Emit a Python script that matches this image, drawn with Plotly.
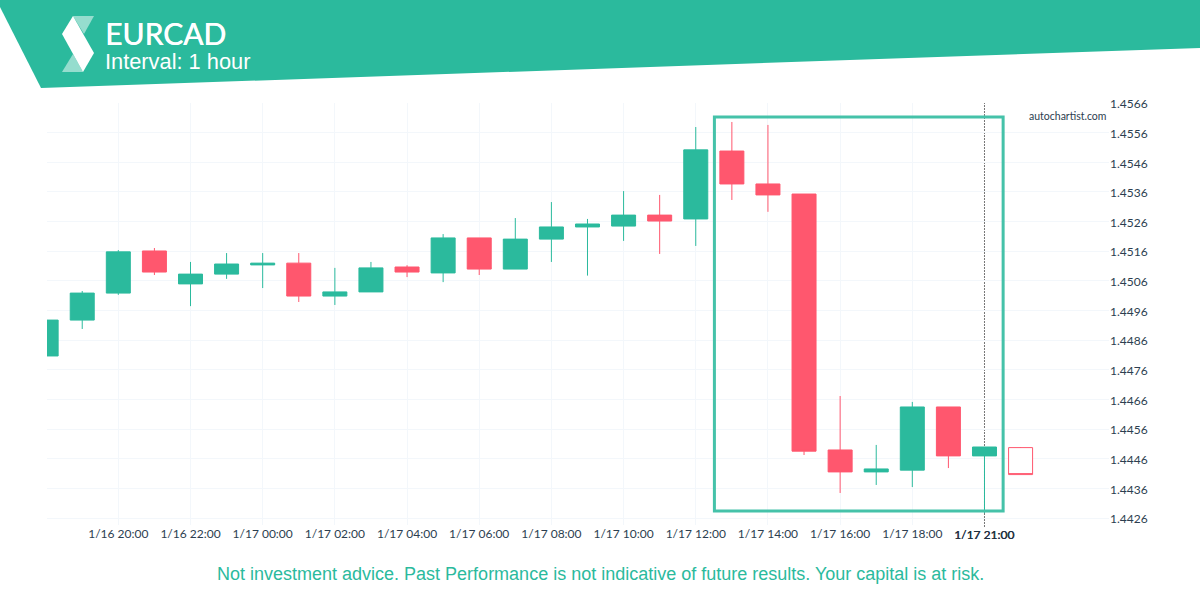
import plotly.graph_objects as go

GREEN = "#2BBA9D"
RED = "#FF576E"
TEXT = "#2C3E50"

# hourly candles, 1/16 18:00 to 1/17 20:00
times = ["2018-01-16 %02d:00" % h for h in (18, 19, 20, 21, 22, 23)] + \
        ["2018-01-17 %02d:00" % h for h in range(0, 21)]
opens = [1.44807, 1.44928, 1.45019, 1.45161, 1.45050, 1.45083, 1.45114, 1.45120, 1.45009, 1.45023,
         1.45107, 1.45087, 1.45205, 1.45100, 1.45201, 1.45242, 1.45245, 1.45282, 1.45269, 1.45498,
         1.45387, 1.45353, 1.44490, 1.44416, 1.44422, 1.44635, 1.44470]
highs = [1.44807, 1.45026, 1.45164, 1.45171, 1.45124, 1.45154, 1.45154, 1.45154, 1.45104, 1.45124,
         1.45113, 1.45218, 1.45205, 1.45272, 1.45326, 1.45269, 1.45363, 1.45350, 1.45579, 1.45596,
         1.45586, 1.45353, 1.44672, 1.44507, 1.44652, 1.44635, 1.44500]
lows = [1.44807, 1.44898, 1.45013, 1.45080, 1.44975, 1.45067, 1.45036, 1.44989, 1.44979, 1.45023,
        1.45073, 1.45056, 1.45080, 1.45100, 1.45124, 1.45078, 1.45195, 1.45151, 1.45178, 1.45333,
        1.45293, 1.44473, 1.44345, 1.44372, 1.44365, 1.44429, 1.44277]
closes = [1.44928, 1.45019, 1.45158, 1.45090, 1.45083, 1.45117, 1.45120, 1.45009, 1.45023, 1.45104,
          1.45090, 1.45205, 1.45100, 1.45201, 1.45242, 1.45252, 1.45282, 1.45262, 1.45502, 1.45387,
          1.45350, 1.44486, 1.44416, 1.44426, 1.44635, 1.44470, 1.44500]

# the unfinished candle after the last one
next_time = ["2018-01-17 21:00"]
next_open = [1.44498]
next_high = [1.44500]
next_low = [1.44407]
next_close = [1.44407]

tick_times = ["2018-01-16 20:00", "2018-01-16 22:00", "2018-01-17 00:00", "2018-01-17 02:00",
              "2018-01-17 04:00", "2018-01-17 06:00", "2018-01-17 08:00", "2018-01-17 10:00",
              "2018-01-17 12:00", "2018-01-17 14:00", "2018-01-17 16:00", "2018-01-17 18:00"]
tick_labels = ["1/16 20:00", "1/16 22:00", "1/17 00:00", "1/17 02:00", "1/17 04:00", "1/17 06:00",
               "1/17 08:00", "1/17 10:00", "1/17 12:00", "1/17 14:00", "1/17 16:00", "1/17 18:00"]
price_ticks = [1.4426, 1.4436, 1.4446, 1.4456, 1.4466, 1.4476, 1.4486, 1.4496, 1.4506, 1.4516,
               1.4526, 1.4536, 1.4546, 1.4556, 1.4566]


def px_x(x):
    return x / 1200


def px_y(y):
    return 1 - y / 600


def poly(points):
    parts = ["%s%.5f,%.5f" % ("M" if i == 0 else "L", px_x(x), px_y(y)) for i, (x, y) in enumerate(points)]
    return " ".join(parts) + " Z"


fig = go.Figure()

fig.add_trace(go.Candlestick(
    x=times, open=opens, high=highs, low=lows, close=closes,
    increasing=dict(line=dict(color=GREEN, width=1), fillcolor=GREEN),
    decreasing=dict(line=dict(color=RED, width=1), fillcolor=RED),
    whiskerwidth=0, showlegend=False, hoverinfo="skip"))

fig.add_trace(go.Candlestick(
    x=next_time, open=next_open, high=next_high, low=next_low, close=next_close,
    decreasing=dict(line=dict(color=RED, width=1), fillcolor="white"),
    increasing=dict(line=dict(color=RED, width=1), fillcolor="white"),
    whiskerwidth=0, showlegend=False, hoverinfo="skip"))

# banner and logo
fig.add_shape(type="path", xref="paper", yref="paper", layer="above", line_width=0, fillcolor=GREEN,
              path=poly([(0, 0), (1200, 0), (1200, 48), (41, 88), (0, 7)]))
fig.add_shape(type="path", xref="paper", yref="paper", layer="above", line_width=0,
              fillcolor="rgba(255,255,255,0.5)",
              path=poly([(73, 16), (94, 16), (84, 34)]))
fig.add_shape(type="path", xref="paper", yref="paper", layer="above", line_width=0,
              fillcolor="rgba(255,255,255,0.5)",
              path=poly([(62, 72), (83, 72), (73, 54)]))
fig.add_shape(type="path", xref="paper", yref="paper", layer="above", line_width=0, fillcolor="white",
              path=poly([(73, 16), (62, 34), (83, 72), (94, 53)]))

# dashed line on the last candle, below the candles
fig.add_shape(type="line", x0=times[-1], x1=times[-1], yref="paper", y0=px_y(527), y1=px_y(103),
              layer="below", line=dict(color="#777777", width=1, dash="2px,1px"))
# pattern box
fig.add_shape(type="rect", x0="2018-01-17 12:31", x1="2018-01-17 20:31", y0=1.44284, y1=1.45613,
              layer="above", line=dict(color="#45C2A9", width=3))

fig.add_annotation(text="EURCAD", xref="paper", yref="paper", x=px_x(103), y=px_y(33), xanchor="left",
                   yanchor="middle", showarrow=False,
                   font=dict(family="Lato", size=30, color="white", shadow="0.5px 0 0 white"))
fig.add_annotation(text="Interval: 1 hour", xref="paper", yref="paper", x=px_x(103), y=px_y(62), xanchor="left",
                   yanchor="middle", showarrow=False, font=dict(family="Liberation Sans", size=21.8, color="white"))
fig.add_annotation(text="autochartist.com", xref="paper", yref="paper", x=px_x(1108), y=px_y(116), xanchor="right",
                   yanchor="middle", showarrow=False, font=dict(family="Lato", size=10.5, color=TEXT))
fig.add_annotation(text="1/17 21:00", x=times[-1], yref="paper", y=px_y(534), xanchor="center",
                   yanchor="middle", showarrow=False,
                   font=dict(family="Lato", size=12, color="#1F2F3F", shadow="0.4px 0 0 #1F2F3F"))
fig.add_annotation(text="Not investment advice. Past Performance is not indicative of future results. Your capital is at risk.",
                   xref="paper", yref="paper", x=px_x(600), y=px_y(574), xanchor="center", yanchor="middle",
                   showarrow=False, font=dict(family="Liberation Sans", size=18, color=GREEN))

fig.update_layout(
    width=1200, height=600,
    margin=dict(l=0, r=0, t=0, b=0, autoexpand=False),
    paper_bgcolor="white", plot_bgcolor="white",
    boxmode="overlay", boxgap=0.335, boxgroupgap=0,
    showlegend=False,
    hovermode=False,
    xaxis=dict(
        domain=[px_x(47), px_x(1109)],
        type="date",
        range=["2018-01-16 18:01:26", "2018-01-17 23:27:00"],
        rangeslider=dict(visible=False),
        tickmode="array", tickvals=tick_times, ticktext=tick_labels,
        showgrid=True, gridcolor="#F3F7FB", gridwidth=1,
        zeroline=False, showline=False, ticks="",
        tickfont=dict(family="Lato", size=12, color=TEXT)),
    yaxis=dict(
        domain=[px_y(525), px_y(103)],
        side="right",
        range=[1.44237, 1.4566],
        tickmode="array", tickvals=price_ticks, tickformat=".4f",
        ticklabelshift=1,
        showgrid=True, gridcolor="#F3F7FB", gridwidth=1,
        zeroline=False, showline=False, ticks="",
        tickfont=dict(family="Lato", size=12, color=TEXT)))

fig.write_html("out.html", config={"displayModeBar": False},
               post_script="document.body.style.margin='0';")
